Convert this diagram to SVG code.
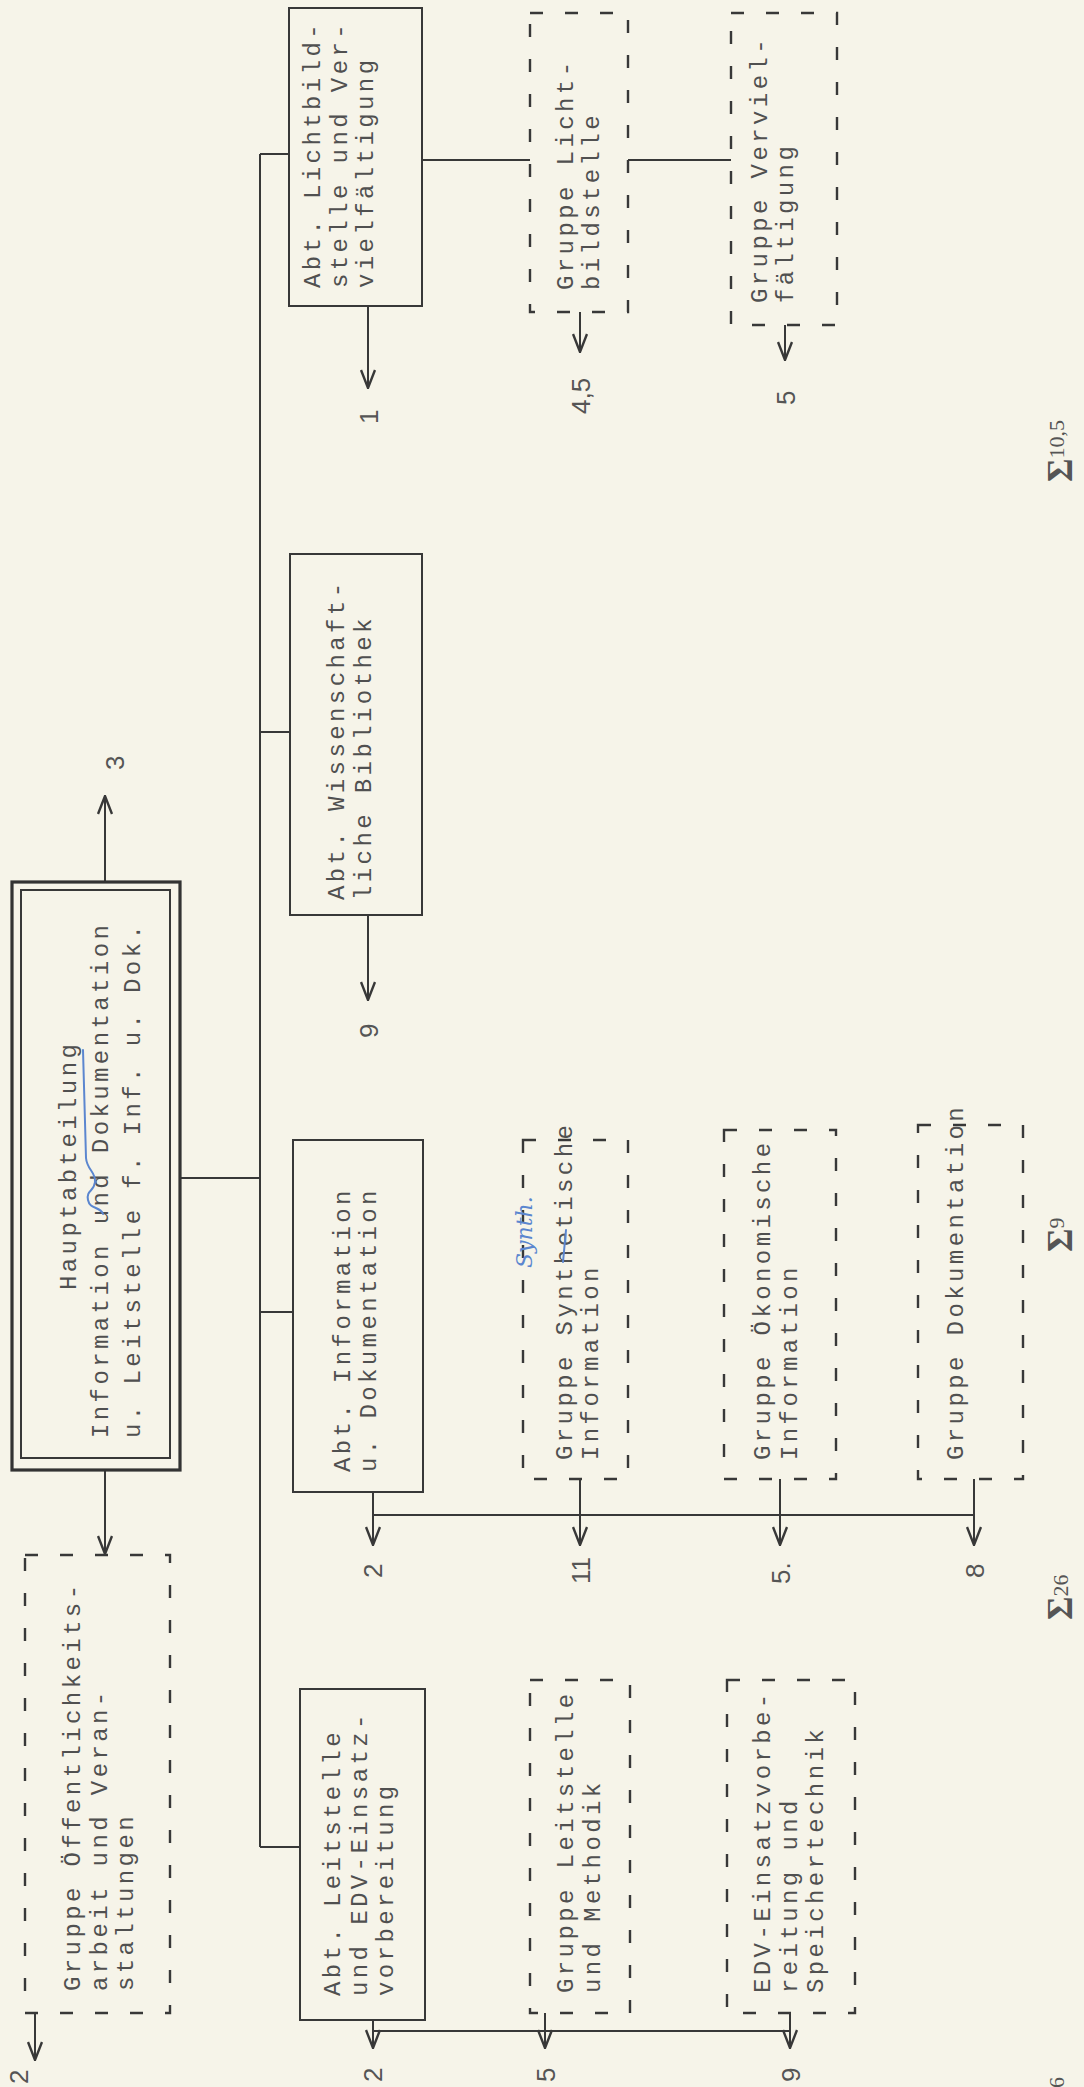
<svg xmlns="http://www.w3.org/2000/svg" width="1084" height="2087" viewBox="0 0 1084 2087">
<defs>
<style>
.box{fill:none;stroke:#383838;stroke-width:2}
.dbox{fill:none;stroke:#383838;stroke-width:2.4;stroke-dasharray:13 22}
.ln{fill:none;stroke:#383838;stroke-width:2}
.t{font-family:"Liberation Mono",monospace;font-size:24px;letter-spacing:3.4px;fill:#505050}
.n{font-family:"Liberation Sans",sans-serif;font-size:26px;fill:#555}
.s{font-family:"Liberation Serif",serif;font-size:36px;font-weight:bold;fill:#555}
.sup{font-size:22px;font-weight:normal}
.blue{fill:none;stroke:#5b86cf;stroke-width:2;stroke-linecap:round}
.hw{font-family:"DejaVu Serif",serif;font-style:italic;font-size:22px;fill:#5b86cf}
</style>
<marker id="ah" viewBox="0 0 20 16" refX="19" refY="8" markerWidth="20" markerHeight="16" markerUnits="userSpaceOnUse" orient="auto"><path d="M1,1 L19,8 L1,15" fill="none" stroke="#383838" stroke-width="2.4"/></marker>
</defs>
<rect x="0" y="0" width="1084" height="2087" fill="#f6f4e9"/>

<g id="connectors">
<line class="ln" x1="260" y1="154" x2="260" y2="1847"/>
<line class="ln" x1="260" y1="154" x2="289" y2="154"/>
<line class="ln" x1="260" y1="732" x2="290" y2="732"/>
<line class="ln" x1="180" y1="1178" x2="260" y2="1178"/>
<line class="ln" x1="260" y1="1312" x2="293" y2="1312"/>
<line class="ln" x1="260" y1="1847" x2="300" y2="1847"/>
<line class="ln" x1="105" y1="882" x2="105" y2="796" marker-end="url(#ah)"/>
<line class="ln" x1="105" y1="1470" x2="105" y2="1554" marker-end="url(#ah)"/>
<line class="ln" x1="35" y1="2013" x2="35" y2="2060" marker-end="url(#ah)"/>
<line class="ln" x1="422" y1="160" x2="530" y2="160"/>
<line class="ln" x1="628" y1="160" x2="731" y2="160"/>
<line class="ln" x1="368" y1="306" x2="368" y2="388" marker-end="url(#ah)"/>
<line class="ln" x1="580" y1="312" x2="580" y2="352" marker-end="url(#ah)"/>
<line class="ln" x1="785" y1="325" x2="785" y2="360" marker-end="url(#ah)"/>
<line class="ln" x1="368" y1="915" x2="368" y2="1000" marker-end="url(#ah)"/>
<line class="ln" x1="373" y1="1515" x2="974" y2="1515"/>
<line class="ln" x1="373" y1="1492" x2="373" y2="1545" marker-end="url(#ah)"/>
<line class="ln" x1="580" y1="1479" x2="580" y2="1545" marker-end="url(#ah)"/>
<line class="ln" x1="780" y1="1479" x2="780" y2="1545" marker-end="url(#ah)"/>
<line class="ln" x1="974" y1="1479" x2="974" y2="1545" marker-end="url(#ah)"/>
<line class="ln" x1="373" y1="2031" x2="790" y2="2031"/>
<line class="ln" x1="373" y1="2020" x2="373" y2="2048" marker-end="url(#ah)"/>
<line class="ln" x1="545" y1="2013" x2="545" y2="2048" marker-end="url(#ah)"/>
<line class="ln" x1="790" y1="2013" x2="790" y2="2048" marker-end="url(#ah)"/>
</g>

<g id="n-main">
<rect x="12" y="882" width="168" height="588" fill="none" stroke="#333" stroke-width="3.2"/>
<rect x="21" y="890" width="149" height="568" class="box" stroke-width="1.6"/>
<text class="t" transform="translate(76 1290) rotate(-90)">Hauptabteilung</text>
<text class="t" transform="translate(108 1438) rotate(-90)">Information und Dokumentation</text>
<text class="t" transform="translate(140 1438) rotate(-90)">u. Leitstelle f. Inf. u. Dok.</text>
<path class="blue" d="M83,1050 C84,1090 85,1130 86,1158 C87,1170 96,1172 95,1182 C94,1192 86,1190 88,1200 C90,1210 100,1206 103,1214"/>
<text class="n" transform="translate(124 770) rotate(-90)">3</text>
</g>

<g id="n-oeff">
<rect class="dbox" x="25" y="1555" width="145" height="458"/>
<text class="t" transform="translate(80 1991) rotate(-90)">Gruppe Öffentlichkeits-</text>
<text class="t" transform="translate(107 1991) rotate(-90)">arbeit und Veran-</text>
<text class="t" transform="translate(133 1991) rotate(-90)">staltungen</text>
<text class="n" transform="translate(28 2084) rotate(-90)">2</text>
</g>

<g id="n-licht">
<rect class="box" x="289" y="8" width="133" height="298"/>
<text class="t" transform="translate(320 288) rotate(-90)">Abt. Lichtbild-</text>
<text class="t" transform="translate(347 288) rotate(-90)">stelle und Ver-</text>
<text class="t" transform="translate(373 288) rotate(-90)">vielfältigung</text>
<text class="n" transform="translate(378 424) rotate(-90)">1</text>
</g>

<g id="n-lichtbildstelle">
<rect class="dbox" x="530" y="13" width="98" height="299"/>
<text class="t" transform="translate(573 290) rotate(-90)">Gruppe Licht-</text>
<text class="t" transform="translate(599 290) rotate(-90)">bildstelle</text>
<text class="n" transform="translate(590 414) rotate(-90)">4,5</text>
</g>

<g id="n-verviel">
<rect class="dbox" x="731" y="13" width="106" height="312"/>
<text class="t" transform="translate(767 303) rotate(-90)">Gruppe Verviel-</text>
<text class="t" transform="translate(793 303) rotate(-90)">fältigung</text>
<text class="n" transform="translate(795 405) rotate(-90)">5</text>
</g>

<g id="n-wiss">
<rect class="box" x="290" y="554" width="132" height="361"/>
<text class="t" transform="translate(344 900) rotate(-90)">Abt. Wissenschaft-</text>
<text class="t" transform="translate(371 900) rotate(-90)">liche Bibliothek</text>
<text class="n" transform="translate(378 1038) rotate(-90)">9</text>
</g>

<g id="n-info">
<rect class="box" x="293" y="1140" width="130" height="352"/>
<text class="t" transform="translate(350 1472) rotate(-90)">Abt. Information</text>
<text class="t" transform="translate(376 1472) rotate(-90)">u. Dokumentation</text>
<text class="n" transform="translate(382 1578) rotate(-90)">2</text>
</g>

<g id="n-synth">
<rect class="dbox" x="523" y="1140" width="105" height="339"/>
<text class="t" transform="translate(572 1460) rotate(-90)">Gruppe Synthetische</text>
<text class="t" transform="translate(598 1460) rotate(-90)">Information</text>
<text class="hw" transform="translate(532 1268) rotate(-90)">Synth.</text>
<path class="blue" d="M563,1262 L566,1230"/>
<text class="n" transform="translate(590 1584) rotate(-90)">11</text>
</g>

<g id="n-oekon">
<rect class="dbox" x="724" y="1130" width="112" height="349"/>
<text class="t" transform="translate(770 1460) rotate(-90)">Gruppe Ökonomische</text>
<text class="t" transform="translate(797 1460) rotate(-90)">Information</text>
<text class="n" transform="translate(790 1584) rotate(-90)">5.</text>
</g>

<g id="n-doku">
<rect class="dbox" x="918" y="1125" width="105" height="354"/>
<text class="t" transform="translate(963 1460) rotate(-90)">Gruppe Dokumentation</text>
<text class="n" transform="translate(984 1578) rotate(-90)">8</text>
</g>

<g id="n-leit">
<rect class="box" x="300" y="1689" width="125" height="331"/>
<text class="t" transform="translate(340 1996) rotate(-90)">Abt. Leitstelle</text>
<text class="t" transform="translate(367 1996) rotate(-90)">und EDV-Einsatz-</text>
<text class="t" transform="translate(393 1996) rotate(-90)">vorbereitung</text>
<text class="n" transform="translate(382 2082) rotate(-90)">2</text>
</g>

<g id="n-method">
<rect class="dbox" x="530" y="1680" width="100" height="333"/>
<text class="t" transform="translate(573 1993) rotate(-90)">Gruppe Leitstelle</text>
<text class="t" transform="translate(600 1993) rotate(-90)">und Methodik</text>
<text class="n" transform="translate(555 2082) rotate(-90)">5</text>
</g>

<g id="n-edv">
<rect class="dbox" x="727" y="1680" width="128" height="333"/>
<text class="t" transform="translate(770 1993) rotate(-90)">EDV-Einsatzvorbe-</text>
<text class="t" transform="translate(797 1993) rotate(-90)">reitung und</text>
<text class="t" transform="translate(823 1993) rotate(-90)">Speichertechnik</text>
<text class="n" transform="translate(800 2082) rotate(-90)">9</text>
</g>

<g id="sums">
<text class="s" transform="translate(1072 482) rotate(-90)">Σ<tspan class="sup" dy="-8">10,5</tspan></text>
<text class="s" transform="translate(1072 1252) rotate(-90)">Σ<tspan class="sup" dy="-8">9</tspan></text>
<text class="s" transform="translate(1072 1620) rotate(-90)">Σ<tspan class="sup" dy="-4">26</tspan></text>
<text class="s" transform="translate(1064 2088) rotate(-90)"><tspan class="sup">6</tspan></text>
</g>
</svg>
